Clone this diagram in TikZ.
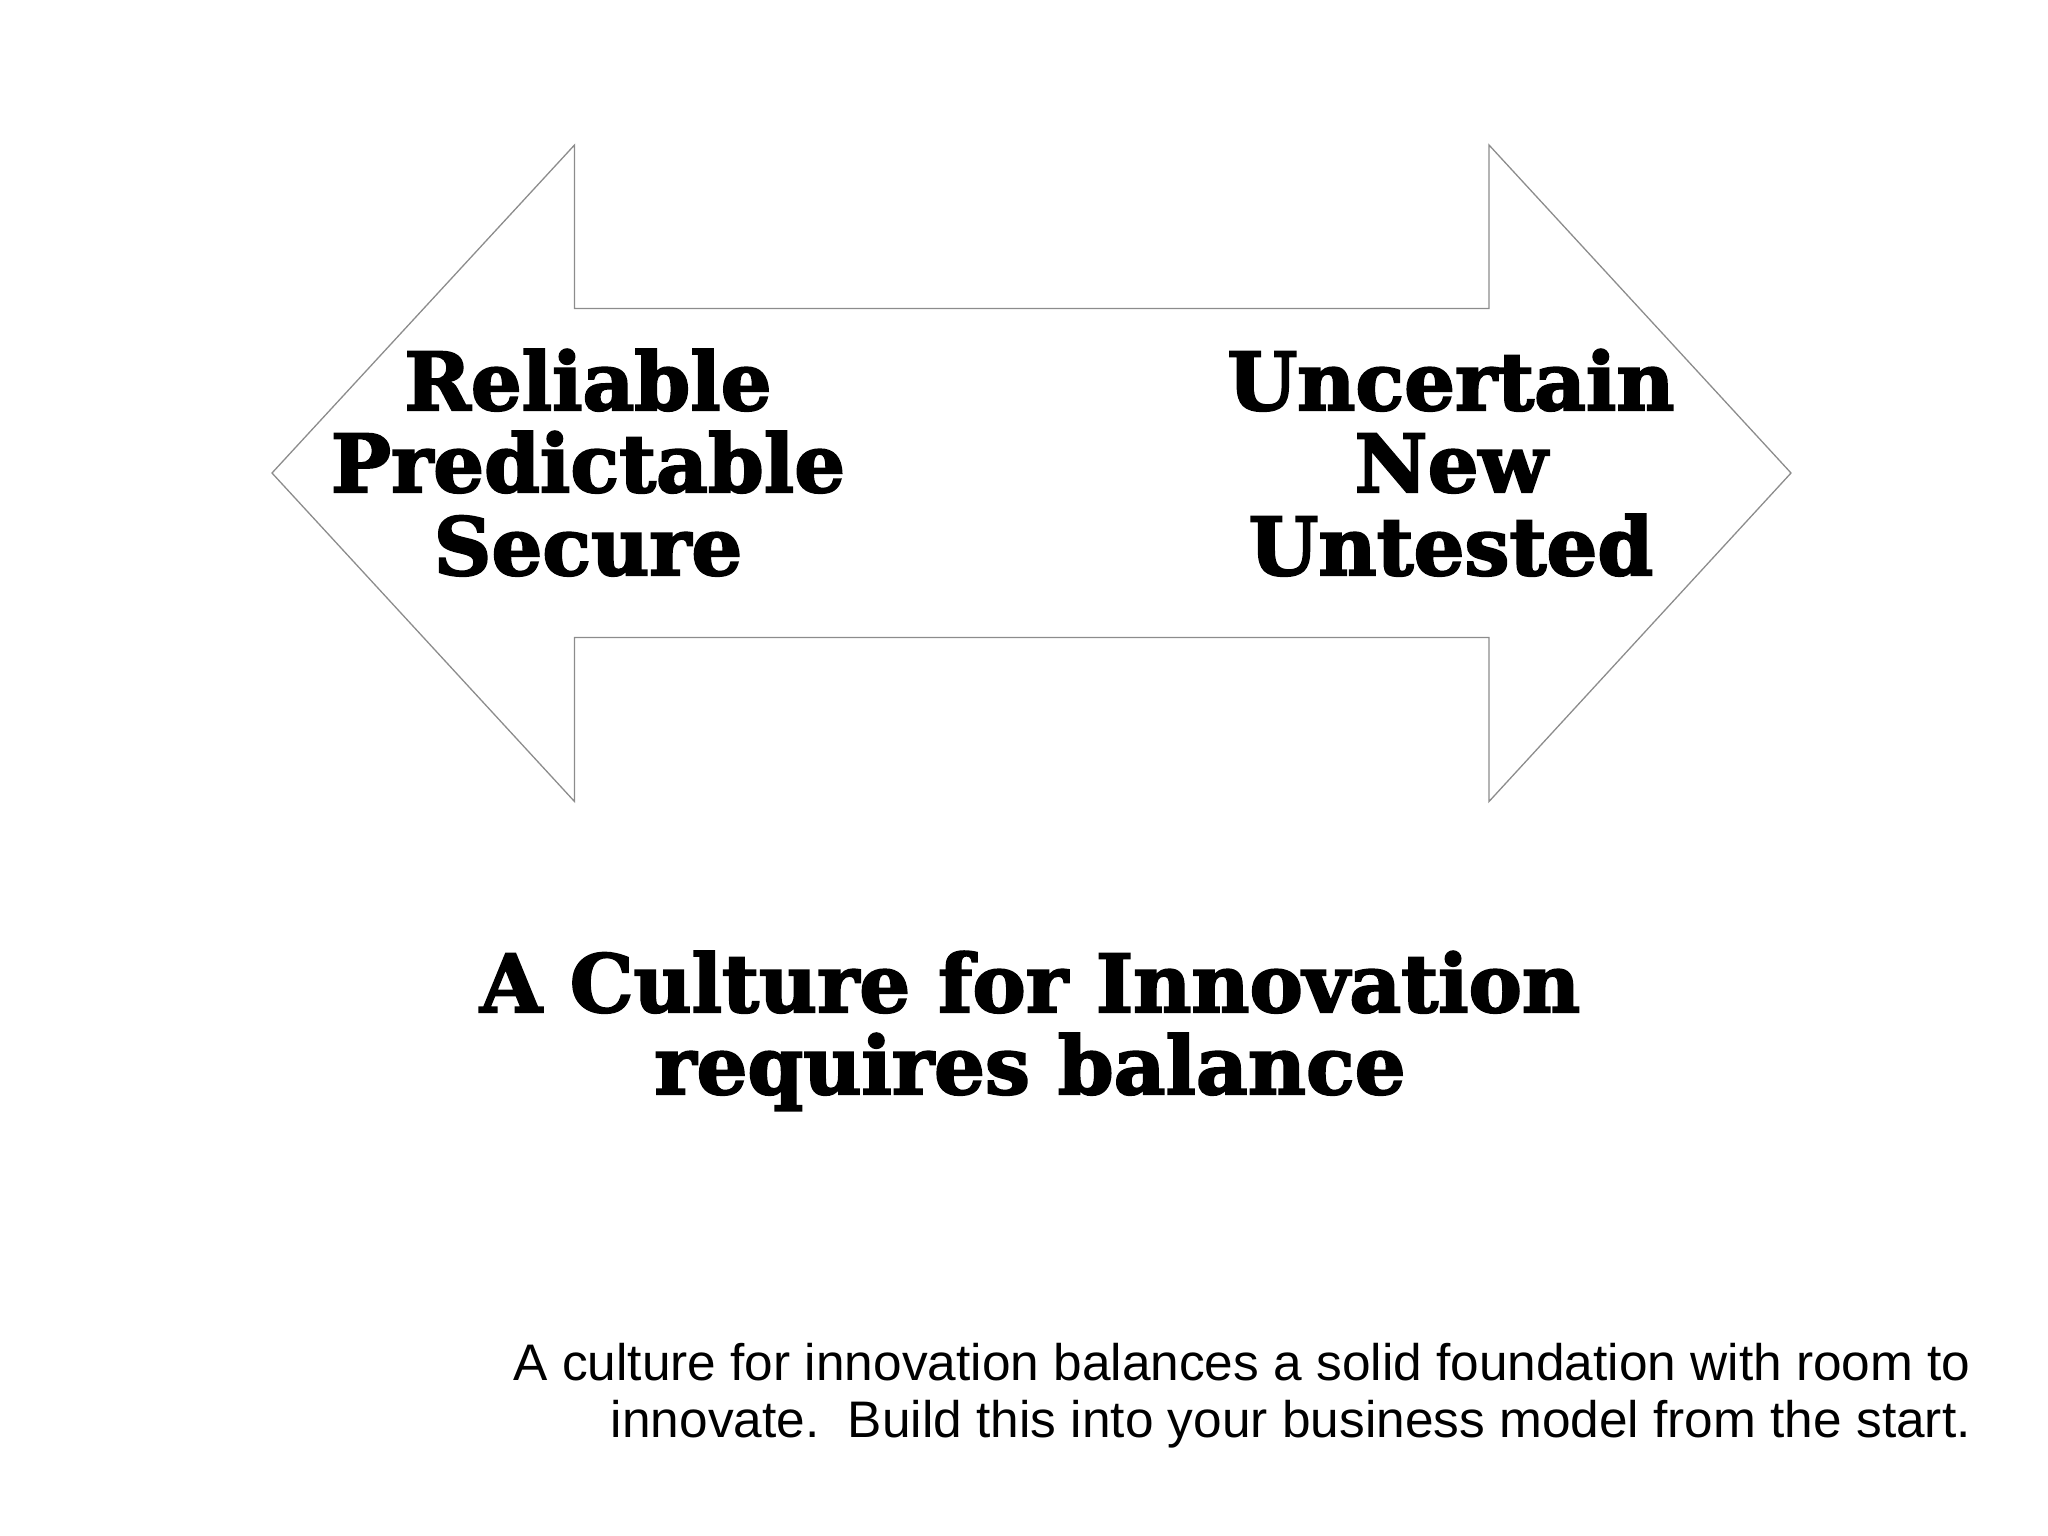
\documentclass[tikz,border=0pt]{standalone}
\usepackage{fontspec}
\setmainfont{Liberation Sans}
\newfontfamily\headfont{DejaVu Serif}[BoldFont={* Bold},BoldFeatures={FakeBold=2.5}]
\begin{document}
\begin{tikzpicture}[x=1pt,y=-1pt,
  outline/.style={draw=black!45,line width=1.3pt,line join=miter},
  headline/.style={anchor=base,inner sep=0pt,font=\headfont\bfseries\fontsize{80}{82}\selectfont},
  bodyline/.style={anchor=base east,inner sep=0pt,font=\fontsize{51.4}{57}\selectfont}]
\useasboundingbox (0,0) rectangle (2048,1535);
% double-headed arrow
\draw[outline] (272,473) -- (574.5,145) -- (574.5,308.5) -- (1489,308.5) -- (1489,145)
  -- (1791,473) -- (1489,801.5) -- (1489,637.5) -- (574.5,637.5) -- (574.5,801.5) -- cycle;
% left labels
\node[headline] (l1) at (588,410) {Reliable};
\node[headline] (l2) at (588,492) {Predictable};
\node[headline] (l3) at (588,575) {Secure};
% right labels
\node[headline] (r1) at (1451,410) {Uncertain};
\node[headline] (r2) at (1451,492) {New};
\node[headline] (r3) at (1451,575) {Untested};
% title
\node[headline] (t1) at (1030,1012) {A Culture for Innovation};
\node[headline] (t2) at (1030,1094) {requires balance};
% caption
\node[bodyline] (c1) at (1971,1380) {A culture for innovation balances a solid foundation with room to};
\node[bodyline] (c2) at (1971,1437) {innovate.\ \ Build this into your business model from the start.};
\end{tikzpicture}
\end{document}
